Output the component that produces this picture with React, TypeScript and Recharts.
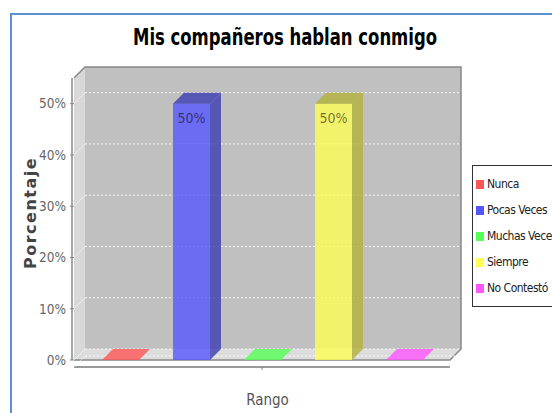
import React from 'react';
import { BarChart, Bar, XAxis, YAxis, CartesianGrid, ReferenceArea, LabelList, Legend } from 'recharts';

// one category (Rango), five series
const seriesNames = ['Nunca', 'Pocas Veces', 'Muchas Veces', 'Siempre', 'No Contestó'];
const seriesValues = [0, 0.5, 0, 0.5, 0];
const seriesColors = ['#ff5555', '#5555ff', '#55ff55', '#ffff55', '#ff55ff'];
const yTicks = [0, 0.1, 0.2, 0.3, 0.4, 0.5];
const yMax = 0.55;

const data = [
  seriesNames.reduce((row: any, name, i) => {
    row[name] = seriesValues[i];
    return row;
  }, { rango: '' }),
];

const DEPTH = 11;
const SANS = "'DejaVu Sans', sans-serif";

const darker = (hex: string) => {
  const n = parseInt(hex.slice(1), 16);
  const c = [(n >> 16) & 255, (n >> 8) & 255, n & 255].map(v => Math.floor(v * 0.7));
  return `rgb(${c[0]},${c[1]},${c[2]})`;
};

const pct = (v: any) => `${Math.round(Number(v) * 100)}%`;

// the 3D box behind the bars
const Box3D = (props: any) => {
  const { x, y, width: w, height: h } = props;
  const d = DEPTH;
  return (
    <g>
      <rect x={x + d} y={y - d} width={w} height={h} fill="#c0c0c0" />
      <polygon points={`${x},${y} ${x + d},${y - d} ${x + d},${y + h - d} ${x},${y + h}`} fill="#d8d8d8" />
      <polygon points={`${x},${y + h} ${x + d},${y + h - d} ${x + w + d},${y + h - d} ${x + w},${y + h}`} fill="#dcdcdc" />
      <path
        d={`M${x},${y} L${x + d},${y - d} L${x + w + d},${y - d} L${x + w + d},${y + h - d} L${x + w},${y + h} L${x},${y + h}`}
        fill="none" stroke="#888" strokeWidth={1.5}
      />
      <line x1={x - 2} x2={x - 2} y1={y} y2={y + h} stroke="#888" strokeWidth={1.5} />
      <line x1={x} x2={x + w} y1={y + h + 7} y2={y + h + 7} stroke="#999" strokeWidth={2} />
    </g>
  );
};

const Bar3D = (props: any) => {
  const { x, y, width: w, height: h, color } = props;
  const d = DEPTH;
  if (!h) {
    return (
      <polygon points={`${x},${y} ${x + d},${y - d} ${x + w + d},${y - d} ${x + w},${y}`} fill={color} fillOpacity={0.8} />
    );
  }
  const dk = darker(color);
  return (
    <g fillOpacity={0.8}>
      <rect x={x} y={y} width={w} height={h} fill={color} />
      <polygon points={`${x},${y} ${x + d},${y - d} ${x + w + d},${y - d} ${x + w},${y}`} fill={dk} />
      <polygon points={`${x + w},${y} ${x + w + d},${y - d} ${x + w + d},${y + h - d} ${x + w},${y + h}`} fill={dk} />
    </g>
  );
};

// grid lines sit on the back wall: shifted up/right by the depth, with a diagonal on the side wall
const GridLine = (p: any) => {
  const { x1, x2, y1 } = p;
  return (
    <g key={p.key}>
      <line x1={x1 + DEPTH} x2={x2} y1={y1 - DEPTH} y2={y1 - DEPTH} stroke="#fff" strokeOpacity={0.85} strokeDasharray="2 2" />
      <line x1={x1} x2={x1 + DEPTH} y1={y1} y2={y1 - DEPTH} stroke="#fff" strokeOpacity={0.5} />
    </g>
  );
};

const YLabel = (lp: any) => {
  const vb = lp.viewBox || { x: 14, y: 67, height: 300 };
  const cx = vb.x + 16;
  const cy = vb.y + vb.height / 2 - 4;
  return (
    <text x={cx} y={cy} transform={`rotate(-90 ${cx} ${cy})`} textAnchor="middle" dominantBaseline="central"
      fontFamily={SANS} fontWeight="bold" fontSize={16} letterSpacing={1.5} fill="#444">
      Porcentaje
    </text>
  );
};

const LegendBox = (props: any) => {
  const items = props.payload || [];
  return (
    <div style={{ border: '1px solid #333', background: '#fff', padding: '5px 0 5px 3px', width: 110, boxSizing: 'border-box' }}>
      {items.map((it: any) => (
        <div key={it.value} style={{ height: 26, display: 'flex', alignItems: 'center', fontFamily: SANS, fontStretch: 'condensed', fontSize: 12, letterSpacing: -0.5, color: '#222', whiteSpace: 'nowrap' }}>
          <span style={{ display: 'inline-block', width: 8, height: 9, background: it.color, marginRight: 3 }} />
          {it.value}
        </div>
      ))}
    </div>
  );
};

export default function App() {
  return (
    <div style={{ position: 'absolute', left: 0, top: 0, width: 552, height: 413, overflow: 'hidden', background: '#fff' }}>
      <div style={{ position: 'absolute', left: 10, top: 13, width: 700, height: 600, borderTop: '2px solid #5f8fd6', borderLeft: '2px solid #5f8fd6' }} />
      <svg style={{ position: 'absolute', left: 0, top: 0 }} width={552} height={60}>
        <text x={133} y={45} textLength={304} lengthAdjust="spacingAndGlyphs" fontFamily={SANS} fontWeight="bold"
          style={{ fontStretch: 'condensed' }} fontSize={23} fill="#000">
          Mis compañeros hablan conmigo
        </text>
      </svg>
      <div style={{ position: 'absolute', left: 0, top: 0 }}>
        <BarChart
          width={552}
          height={413}
          data={data}
          margin={{ top: 67, right: 91, bottom: 0, left: 14 }}
          barSize={37}
          barGap={34}
        >
          <XAxis
            dataKey="rango"
            height={46}
            padding={{ left: 0, right: DEPTH }}
            axisLine={false}
            tickSize={3}
            tickLine={{ stroke: '#888' }}
            tick={{ fontSize: 1, fill: 'transparent' }}
            label={{ value: 'Rango', position: 'insideBottom', offset: 8, fontFamily: SANS, fontSize: 15, fill: '#555', style: { fontStretch: 'condensed' } }}
          />
          <YAxis
            yAxisId="front"
            width={60}
            domain={[0, yMax]}
            ticks={yTicks}
            tickFormatter={pct}
            padding={{ top: DEPTH, bottom: 7 }}
            axisLine={false}
            tickLine={{ stroke: '#888' }}
            tickSize={4}
            tickMargin={4}
            tick={{ fontFamily: SANS, fontSize: 13.5, fill: '#666', style: { fontStretch: 'condensed' } }}
            label={<YLabel />}
          />
          <ReferenceArea yAxisId="front" y1={0} y2={yMax} shape={<Box3D />} ifOverflow="visible" zIndex={-150} />
          <CartesianGrid yAxisId="front" vertical={false} horizontal={GridLine} />
          <Legend
            layout="vertical"
            align="center"
            verticalAlign="middle"
            itemSorter={(item: any) => seriesNames.indexOf(item.value)}
            content={<LegendBox />}
            wrapperStyle={{ position: 'absolute', left: 472, top: 165, width: 110 }}
          />
          {seriesNames.map((name, i) => (
            <Bar
              key={name}
              yAxisId="front"
              dataKey={name}
              fill={seriesColors[i]}
              isAnimationActive={false}
              shape={(p: any) => <Bar3D {...p} color={seriesColors[i]} />}
            >
              <LabelList
                dataKey={name}
                position="insideTop"
                offset={9}
                formatter={(v: any) => (Number(v) > 0 ? pct(v) : '')}
                style={{ fontFamily: SANS, fontStretch: 'condensed', fontSize: 14, fill: '#000', fillOpacity: 0.55 }}
              />
            </Bar>
          ))}
        </BarChart>
      </div>
    </div>
  );
}
